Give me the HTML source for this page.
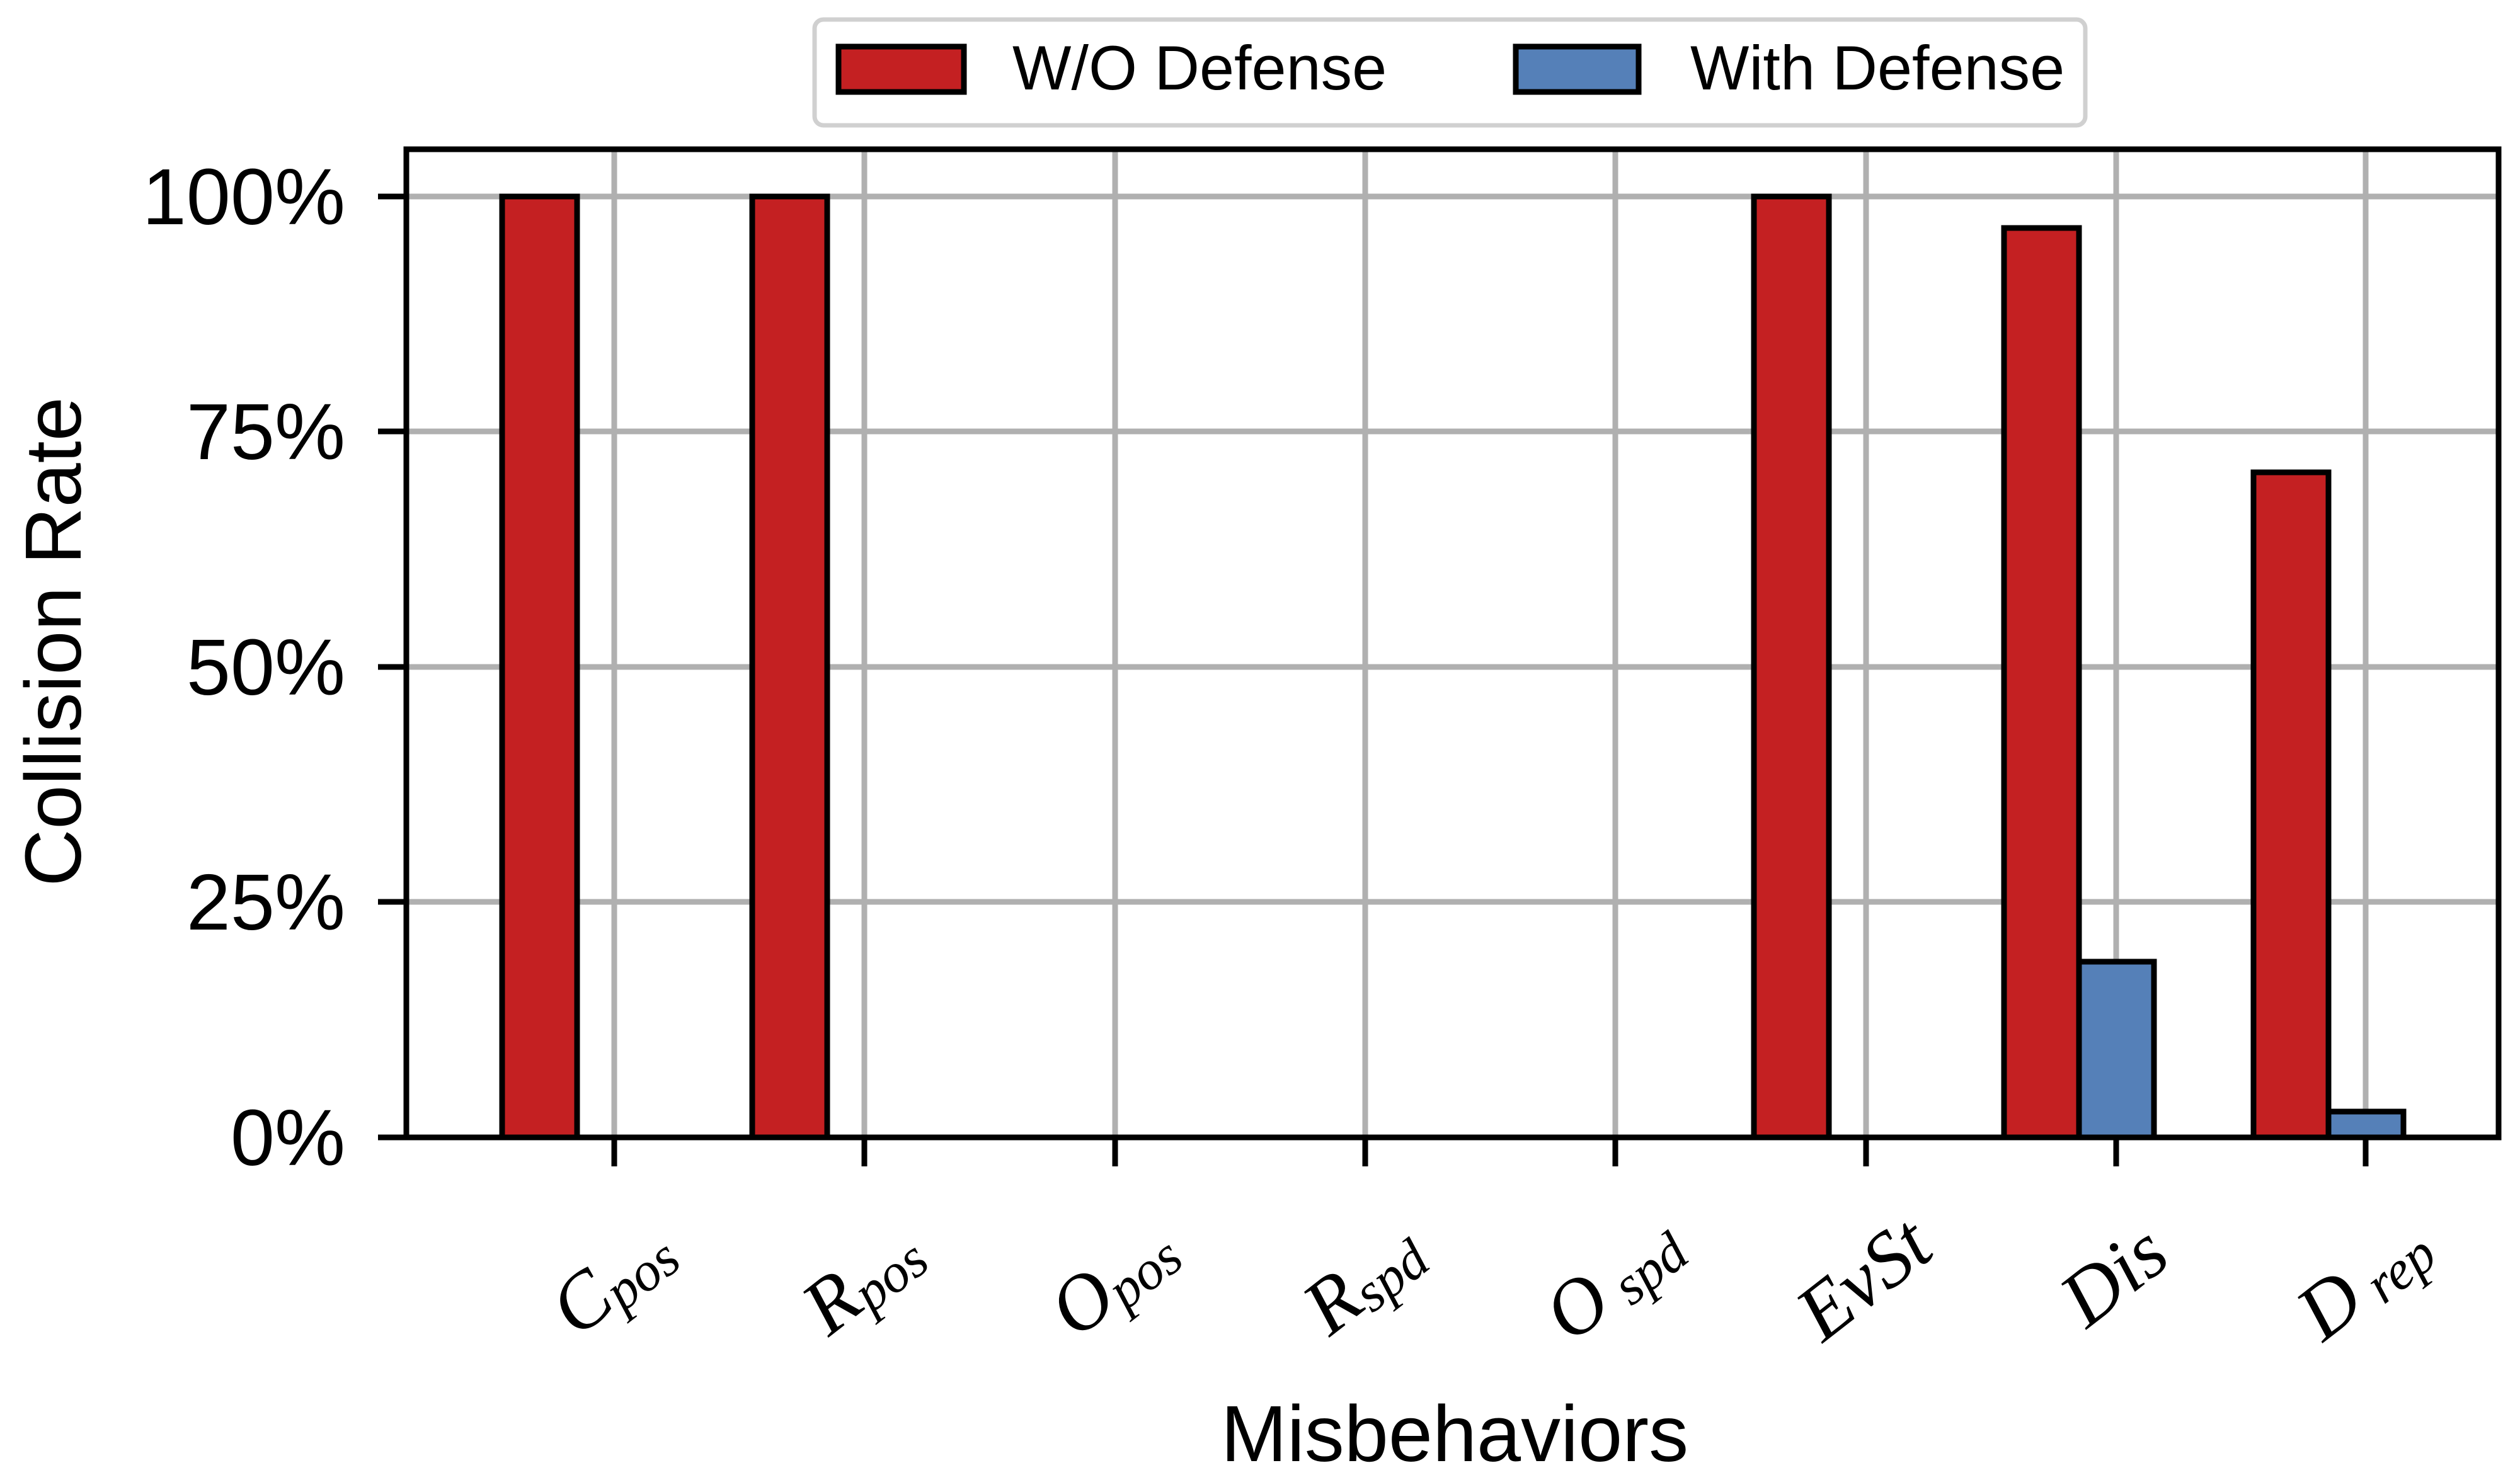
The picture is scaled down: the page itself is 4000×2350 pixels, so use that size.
<!DOCTYPE html>
<html><head><meta charset="utf-8"><style>
html,body{margin:0;padding:0;background:#fff;}
svg{display:block;}
</style></head><body>
<svg width="4000" height="2350" viewBox="0 0 4000 2350" xmlns="http://www.w3.org/2000/svg">
<rect width="4000" height="2350" fill="#fff"/>
<g stroke="#b0b0b0" stroke-width="9">
<line x1="645" y1="312" x2="3966" y2="312"/>
<line x1="645" y1="685" x2="3966" y2="685"/>
<line x1="645" y1="1059" x2="3966" y2="1059"/>
<line x1="645" y1="1432" x2="3966" y2="1432"/>
<line x1="975" y1="237" x2="975" y2="1806"/>
<line x1="1372" y1="237" x2="1372" y2="1806"/>
<line x1="1770" y1="237" x2="1770" y2="1806"/>
<line x1="2167" y1="237" x2="2167" y2="1806"/>
<line x1="2564" y1="237" x2="2564" y2="1806"/>
<line x1="2962" y1="237" x2="2962" y2="1806"/>
<line x1="3359" y1="237" x2="3359" y2="1806"/>
<line x1="3755" y1="237" x2="3755" y2="1806"/>
</g>
<g stroke="#000" stroke-width="9">
<rect x="797" y="312" width="119" height="1494" fill="#c42022"/>
<rect x="1194" y="312" width="119" height="1494" fill="#c42022"/>
<rect x="2784" y="312" width="119" height="1494" fill="#c42022"/>
<rect x="3181" y="362" width="119" height="1444" fill="#c42022"/>
<rect x="3300" y="1527" width="119" height="279" fill="#5580b8"/>
<rect x="3577" y="750" width="119" height="1056" fill="#c42022"/>
<rect x="3696" y="1765" width="119" height="41" fill="#5580b8"/>
<line x1="797" y1="1806" x2="3815" y2="1806"/>
</g>
<rect x="645" y="237" width="3321" height="1569" fill="none" stroke="#000" stroke-width="9"/>
<g stroke="#000" stroke-width="9">
<line x1="600" y1="312" x2="645" y2="312"/>
<line x1="600" y1="685" x2="645" y2="685"/>
<line x1="600" y1="1059" x2="645" y2="1059"/>
<line x1="600" y1="1432" x2="645" y2="1432"/>
<line x1="600" y1="1806" x2="645" y2="1806"/>
<line x1="975" y1="1806" x2="975" y2="1852"/>
<line x1="1372" y1="1806" x2="1372" y2="1852"/>
<line x1="1770" y1="1806" x2="1770" y2="1852"/>
<line x1="2167" y1="1806" x2="2167" y2="1852"/>
<line x1="2564" y1="1806" x2="2564" y2="1852"/>
<line x1="2962" y1="1806" x2="2962" y2="1852"/>
<line x1="3359" y1="1806" x2="3359" y2="1852"/>
<line x1="3755" y1="1806" x2="3755" y2="1852"/>
</g>
<g font-family="Liberation Sans, sans-serif" font-size="126" text-anchor="end" fill="#000">
<text x="548" y="356">100%</text>
<text x="548" y="729">75%</text>
<text x="548" y="1103">50%</text>
<text x="548" y="1476">25%</text>
<text x="548" y="1850">0%</text>
</g>
<text transform="translate(128,1019) rotate(-90)" text-anchor="middle" font-family="Liberation Sans, sans-serif" font-size="126">Collision Rate</text>
<text x="2309" y="2320" text-anchor="middle" font-family="Liberation Sans, sans-serif" font-size="126">Misbehaviors</text>
<g font-family="Liberation Serif, serif" font-style="italic" text-anchor="middle" fill="#000">
<text transform="translate(975,2035) rotate(-38)" y="35" font-size="125">C<tspan font-size="88" dy="12">pos</tspan></text>
<text transform="translate(1372,2035) rotate(-38)" y="35" font-size="125">R<tspan font-size="88" dy="12">pos</tspan></text>
<text transform="translate(1770,2035) rotate(-38)" y="35" font-size="125">O<tspan font-size="88" dy="12">pos</tspan></text>
<text transform="translate(2167,2035) rotate(-38)" y="35" font-size="125">R<tspan font-size="88" dy="12">spd</tspan></text>
<text transform="translate(2564,2035) rotate(-38)" y="35" font-size="125">O<tspan font-size="88" dy="12"> spd</tspan></text>
<text transform="translate(2962,2035) rotate(-38)" y="35" font-size="125">EvSt</text>
<text transform="translate(3359,2030) rotate(-38)" y="35" font-size="125">Dis</text>
<text transform="translate(3755,2035) rotate(-38)" y="35" font-size="125">D<tspan font-size="88" dy="12"> rep</tspan></text>
</g>
<rect x="1293" y="31" width="2017" height="168" rx="14" fill="#fff" stroke="#d0d0d0" stroke-width="7"/>
<rect x="1331" y="74" width="199" height="72" fill="#c42022" stroke="#000" stroke-width="9"/>
<text x="1607" y="142" font-family="Liberation Sans, sans-serif" font-size="99">W/O Defense</text>
<rect x="2406" y="74" width="195" height="72" fill="#5580b8" stroke="#000" stroke-width="9"/>
<text x="2683" y="142" font-family="Liberation Sans, sans-serif" font-size="99">With Defense</text>
</svg>
</body></html>
